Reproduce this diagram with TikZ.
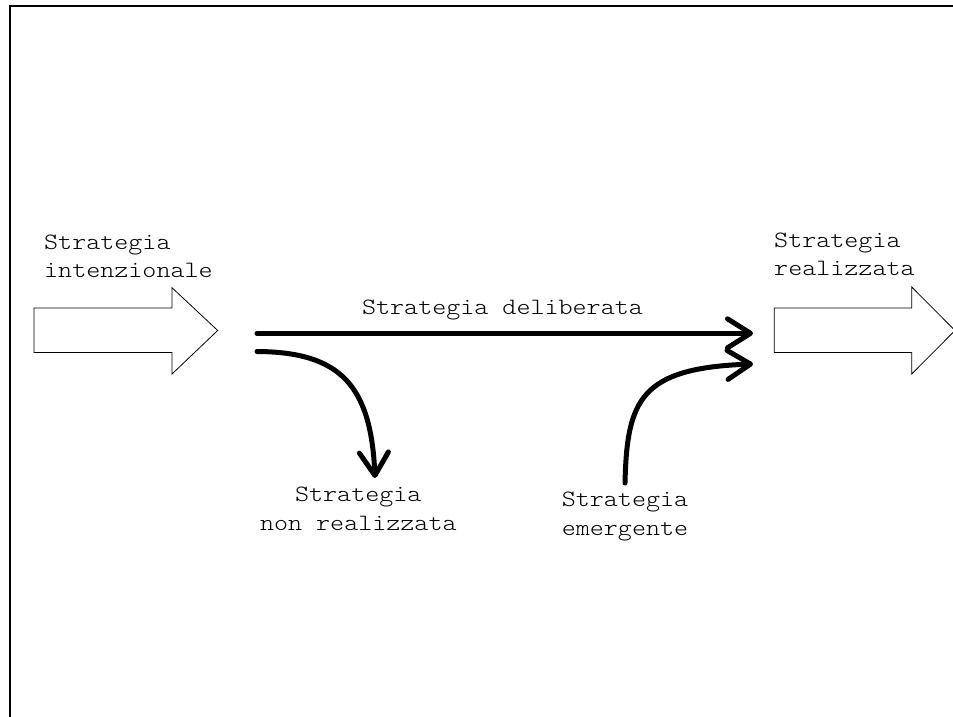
\documentclass[tikz,border=0pt]{standalone}
\usepackage{fontspec}
\usetikzlibrary{arrows.meta}
% thin typewriter face, widened to Courier proportions
\newfontfamily\cour{lmmonolt10-regular.otf}[FakeStretch=1.143]
\tikzset{
  lbl/.style={inner sep=0pt, font=\cour\fontsize{23.4}{28.5}\selectfont},
  hollow/.style={draw=black, line width=0.8pt, fill=white, line join=miter},
  flow/.style={line width=5pt, line cap=round,
    -{Straight Barb[length=23pt,width=29pt,round]}},
  frame/.style={line width=2.6pt}
}
\begin{document}
\begin{tikzpicture}[x=1pt,y=-1pt]
\useasboundingbox (0,0) rectangle (953,717);
% outer frame (top and left edges)
\draw[frame] (10,717) -- (10,6) -- (953,6);

% wide hollow arrows
\draw[hollow] (34,308) -- (172,308) -- (172,287.7) -- (217.7,330.5)
  -- (172,374) -- (172,352.5) -- (34,352.5) -- cycle;
\draw[hollow] (774.3,308) -- (911.7,308) -- (911.7,287) -- (955,330.5)
  -- (911.7,374) -- (911.7,352.5) -- (774.3,352.5) -- cycle;

% labels (base anchor of a two-line label sits on its last line)
\node[lbl, anchor=base west, align=left] (intent) at (44,277.5)
  {Strategia\\intenzionale};
\node[lbl, anchor=base west, align=left] (real) at (774,275.5)
  {Strategia\\realizzata};
\node[lbl, anchor=base] (delib) at (502.5,314) {Strategia deliberata};
\node[lbl, anchor=base, align=center] (nonreal) at (358.3,530.2)
  {Strategia\\non realizzata};
\node[lbl, anchor=base, align=center] (emerg) at (625,535.2)
  {Strategia\\emergente};

% connector end points
\coordinate (dstart) at (257,333.3);
\coordinate (dend)   at (753,333.3);
\coordinate (ustart) at (257,351.5);
\coordinate (uend)   at (375,478);
\coordinate (estart) at (625,483);
\coordinate (eend)   at (753,364);

% flows
\draw[flow] (dstart) -- (dend);
\draw[flow] (ustart) .. controls (340,352) and (371,385) .. (uend);
\draw[flow] (estart) .. controls (627,400) and (640,368) .. (eend);
\end{tikzpicture}
\end{document}
